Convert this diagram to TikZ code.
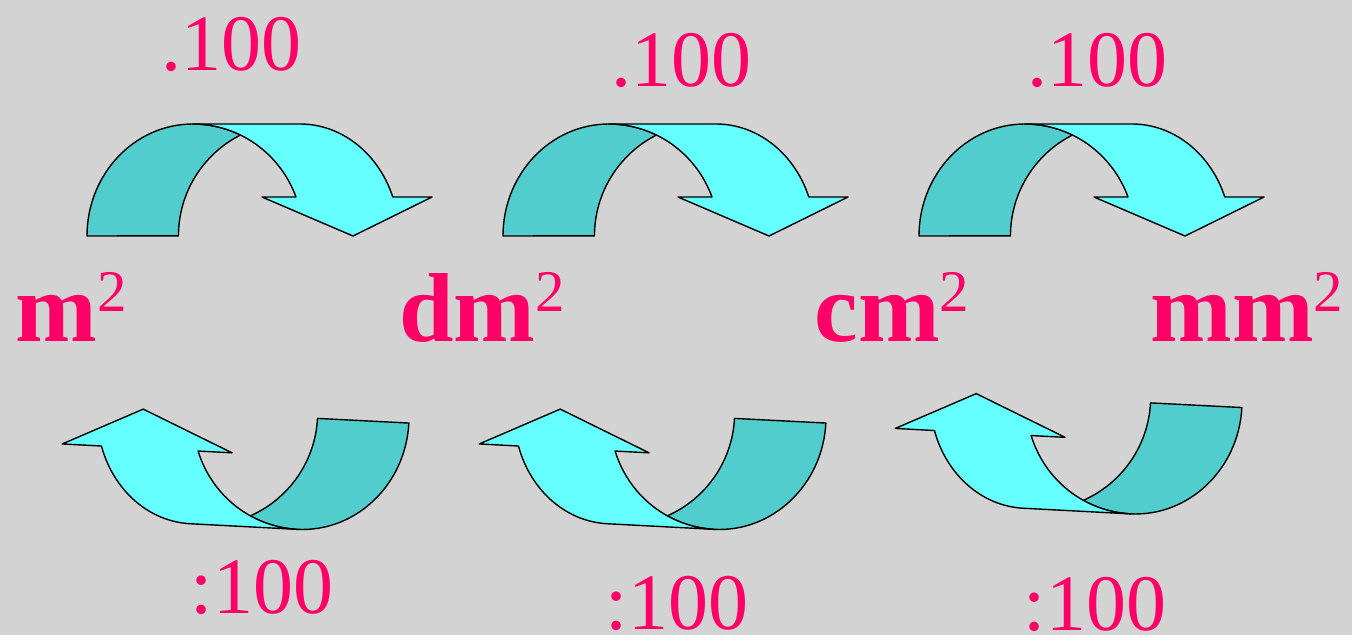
\documentclass[tikz,border=0pt]{standalone}
\usepackage{fontspec}
\setmainfont{Liberation Serif}
\usetikzlibrary{positioning}
\definecolor{bggray}{HTML}{D3D3D3}
\definecolor{darkteal}{HTML}{52CDCD}
\definecolor{lightcyan}{HTML}{66FFFF}
\definecolor{unitred}{HTML}{FF0066}
\newcommand{\sqr}{\raisebox{30pt}{\fontsize{59}{60}\selectfont\mdseries 2}}

\begin{document}
\begin{tikzpicture}[
  x=1pt, y=1pt,
  band/.style={draw=black, line width=1.4pt, line join=round},
  num/.style={text=unitred, font=\fontsize{80}{96}\selectfont, inner sep=0pt, anchor=base},
  unit/.style={text=unitred, font=\fontsize{98}{118}\selectfont\bfseries, inner sep=0pt, anchor=base},
  turn/.pic={
    % dark back half
    \filldraw[band, fill=darkteal] (-106,0)
      arc[start angle=180, end angle=90, x radius=106, y radius=112]
      arc[start angle=90, end angle=64.4, x radius=110, y radius=112]
      arc[start angle=116.8, end angle=180, radius=113] -- cycle;
    % light front half with head
    \filldraw[band, fill=lightcyan] (0,112) -- (107,112)
      arc[start angle=90, end angle=20.4, x radius=99, y radius=112]
      -- (239,39) -- (160,0) -- (69,39) -- (103,39)
      arc[start angle=20.4, end angle=90, x radius=110, y radius=112] -- cycle;
  },
]

\fill[bggray] (0,0) rectangle (1352,635);
\useasboundingbox (0,0) rectangle (1352,635);

% multiply, top row
\foreach \x in {193,609,1025}
  \pic at (\x,399) {turn};

% divide, bottom row
\pic[rotate=177] at (303,217.5) {turn};
\pic[rotate=177] at (720,217.5) {turn};
\pic[rotate=177] at (1136,233) {turn};

\node[unit] (m2) at (71,293) {m\sqr};
\node[unit] (dm2) at (482,293) {dm\sqr};
\node[unit] (cm2) at (892,293) {cm\sqr};
\node[unit] (mm2) at (1247,293) {mm\sqr};

\node[num] (mul1) at (231,564) {.100};
\node[num] (mul2) at (681,548) {.100};
\node[num] (mul3) at (1097,548) {.100};

\node[num] (div1) at (262,22) {:100};
\node[num] (div2) at (677,6) {:100};
\node[num] (div3) at (1095,5) {:100};

\end{tikzpicture}
\end{document}
